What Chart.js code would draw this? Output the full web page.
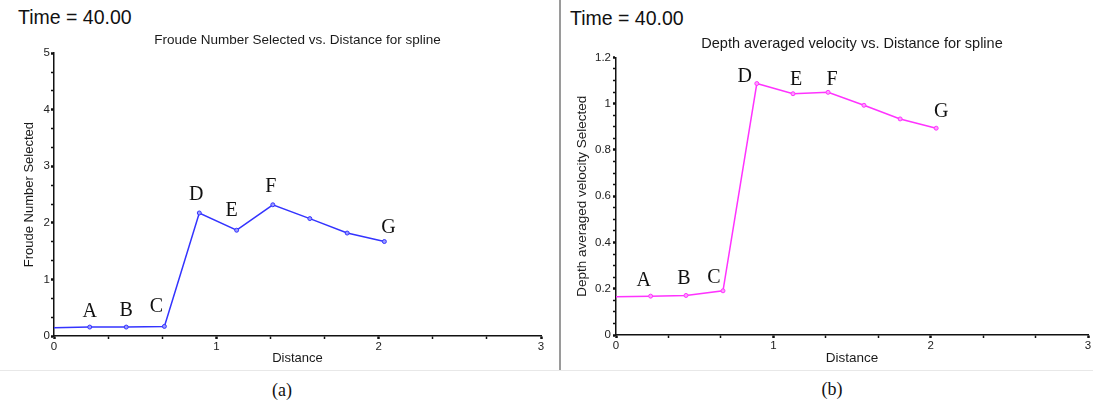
<!DOCTYPE html>
<html>
<head>
<meta charset="utf-8">
<script src="https://cdn.jsdelivr.net/npm/chart.js@4.4.0/dist/chart.umd.min.js"></script>
<style>
  body { margin: 0; background: #fff; width: 1093px; height: 401px; overflow: hidden; position: relative;
         font-family: "Liberation Sans", Arial, sans-serif; }
  .time { position: absolute; font-size: 19.5px; line-height: 20px; color: #111; }
  .cap  { position: absolute; width: 100px; text-align: center; font-family: "Liberation Serif", "Times New Roman", serif;
          font-size: 18px; line-height: 18px; color: #111; }
  #divider { position: absolute; left: 559px; top: 0; width: 2px; height: 371px; background: #9a9a9a; }
  #hline { position: absolute; left: 0; top: 370px; width: 1093px; height: 1px; background: #e8e8e8; }
  canvas { position: absolute; top: 0; }
</style>
</head>
<body>
<div class="time" style="left:18px;top:7px;">Time = 40.00</div>
<div class="time" style="left:570px;top:8px;">Time = 40.00</div>
<div id="divider"></div>
<div id="hline"></div>
<canvas id="froudeChart" width="558" height="370" style="left:0px;"></canvas>
<canvas id="velocityChart" width="531" height="370" style="left:562px;"></canvas>
<div class="cap" style="left:232px;top:381px;">(a)</div>
<div class="cap" style="left:782px;top:380px;">(b)</div>

<script>
// values
var distance     = [0, 0.22, 0.445, 0.68, 0.895, 1.125, 1.348, 1.576, 1.806, 2.035];
var froude       = [0.145, 0.158, 0.158, 0.17, 2.175, 1.87, 2.32, 2.076, 1.82, 1.67];
var velocity     = [0.165, 0.168, 0.171, 0.191, 1.087, 1.043, 1.049, 0.993, 0.934, 0.894];
var point_labels = ['', 'A', 'B', 'C', 'D', 'E', 'F', '', '', 'G'];

function toPoints(ys){
    var pts = [];
    for (var i = 0; i < distance.length; i++){
        pts.push({ x: distance[i], y: ys[i] });
    }
    return pts;
}

function isMultiple(v, step){
    var r = v / step;
    return Math.abs(r - Math.round(r)) < 1e-6;
}

// letters A..G above the points
var pointLetters = {
    id: 'pointLetters',
    afterDatasetsDraw: function(chart, args, opts){
        var meta = chart.getDatasetMeta(0);
        var ctx = chart.ctx;
        ctx.save();
        ctx.font = '20px "Liberation Serif", "Times New Roman", serif';
        ctx.fillStyle = '#111';
        ctx.textAlign = 'center';
        ctx.textBaseline = 'middle';
        for (var i = 0; i < point_labels.length; i++){
            var lbl = point_labels[i];
            if (!lbl) continue;
            var p = meta.data[i];
            var off = opts.offsets[lbl];
            ctx.fillText(lbl, p.x + off[0], p.y + off[1]);
        }
        ctx.restore();
    }
};

function makeChart(canvasId, ys, color, pointFill, cfg){
    var ctx = document.getElementById(canvasId).getContext('2d');
    var sans = '"Liberation Sans", Arial, sans-serif';
    return new Chart(ctx, {
        type: 'line',
        data: {
            datasets: [{
                data: toPoints(ys),
                borderColor: color,
                borderWidth: 1.5,
                pointBackgroundColor: pointFill,
                pointBorderColor: color,
                pointBorderWidth: 1,
                pointRadius: function(c){ return c.dataIndex === 0 ? 0 : 2; },
                tension: 0
            }]
        },
        plugins: [pointLetters],
        options: {
            responsive: false,
            animation: false,
            layout: { padding: { left: 0, right: cfg.padRight, top: 0, bottom: 0 } },
            plugins: {
                legend: { display: false },
                tooltip: { enabled: false },
                title: {
                    display: true,
                    text: cfg.title,
                    fullSize: false,
                    color: '#1a1a1a',
                    font: { family: sans, size: cfg.titleSize, weight: 'normal' },
                    padding: { top: cfg.titleTop, bottom: cfg.titleBottom }
                },
                pointLetters: { offsets: cfg.offsets }
            },
            scales: {
                x: {
                    type: 'linear',
                    min: 0,
                    max: 3,
                    afterFit: function(s){ s.height = cfg.xHeight; },
                    afterBuildTicks: function(s){
                        var t = [];
                        for (var k = 0; k <= 9; k++) t.push({ value: k / 3 });
                        s.ticks = t;
                    },
                    ticks: {
                        autoSkip: false,
                        maxRotation: 0,
                        padding: 1,
                        color: '#222',
                        font: { family: sans, size: 11.5 },
                        callback: function(v){ return isMultiple(v, 1) ? String(Math.round(v)) : ''; }
                    },
                    border: { display: true, color: '#111', width: 1.5 },
                    grid: {
                        drawOnChartArea: false,
                        drawTicks: true,
                        tickLength: 3,
                        tickColor: '#111',
                        tickWidth: function(c){ return (c.tick && isMultiple(c.tick.value, 1)) ? 2.5 : 1.5; }
                    },
                    title: {
                        display: true,
                        text: 'Distance',
                        color: '#1a1a1a',
                        font: { family: sans, size: cfg.axisTitleSize },
                        padding: { top: 0, bottom: cfg.xTitleBottom }
                    }
                },
                y: {
                    type: 'linear',
                    min: 0,
                    max: cfg.yMax,
                    afterFit: function(s){ s.width = 54; },
                    afterBuildTicks: function(s){
                        var t = [];
                        var n = Math.round(cfg.yMax / cfg.yMinor);
                        for (var k = 0; k <= n; k++) t.push({ value: k * cfg.yMinor });
                        s.ticks = t;
                    },
                    ticks: {
                        autoSkip: false,
                        padding: cfg.yTickPad,
                        color: '#222',
                        font: { family: sans, size: 11.5 },
                        callback: function(v){
                            return isMultiple(v, cfg.yMajor) ? String(Math.round(v * 10) / 10) : '';
                        }
                    },
                    border: { display: true, color: '#111', width: 1.5 },
                    grid: {
                        drawOnChartArea: false,
                        drawTicks: true,
                        tickLength: 3,
                        tickColor: '#111',
                        tickWidth: function(c){ return (c.tick && isMultiple(c.tick.value, cfg.yMajor)) ? 2.5 : 1.5; }
                    },
                    title: {
                        display: true,
                        text: cfg.yTitle,
                        color: '#1a1a1a',
                        font: { family: sans, size: cfg.axisTitleSize },
                        padding: { top: cfg.yTitleTop, bottom: 0 }
                    }
                }
            }
        }
    });
}

makeChart('froudeChart', froude, '#3434ff', '#9a9aff', {
    title: 'Froude Number Selected vs. Distance for spline',
    yTitle: 'Froude Number Selected',
    yMax: 5, yMajor: 1, yMinor: 1 / 3,
    titleSize: 13.5, axisTitleSize: 13,
    padRight: 17, titleTop: 32, titleBottom: 5,
    xHeight: 34, xTitleBottom: 4, yTitleTop: 22, yTickPad: 1,
    offsets: { A: [0, -15], B: [0, -16], C: [-8, -20], D: [-3, -18], E: [-5, -19], F: [-2, -18], G: [4, -14] }
});

makeChart('velocityChart', velocity, '#ff33ff', '#ff9cff', {
    title: 'Depth averaged velocity vs. Distance for spline',
    yTitle: 'Depth averaged velocity Selected',
    yMax: 1.2, yMajor: 0.2, yMinor: 0.05,
    titleSize: 14.5, axisTitleSize: 13.5,
    padRight: 5, titleTop: 35, titleBottom: 5,
    xHeight: 35, xTitleBottom: 4, yTitleTop: 12, yTickPad: 2,
    offsets: { A: [-7, -15], B: [-2, -17], C: [-9, -13], D: [-12, -7], E: [3, -14], F: [4, -13], G: [5, -16] }
});
</script>
</body>
</html>
